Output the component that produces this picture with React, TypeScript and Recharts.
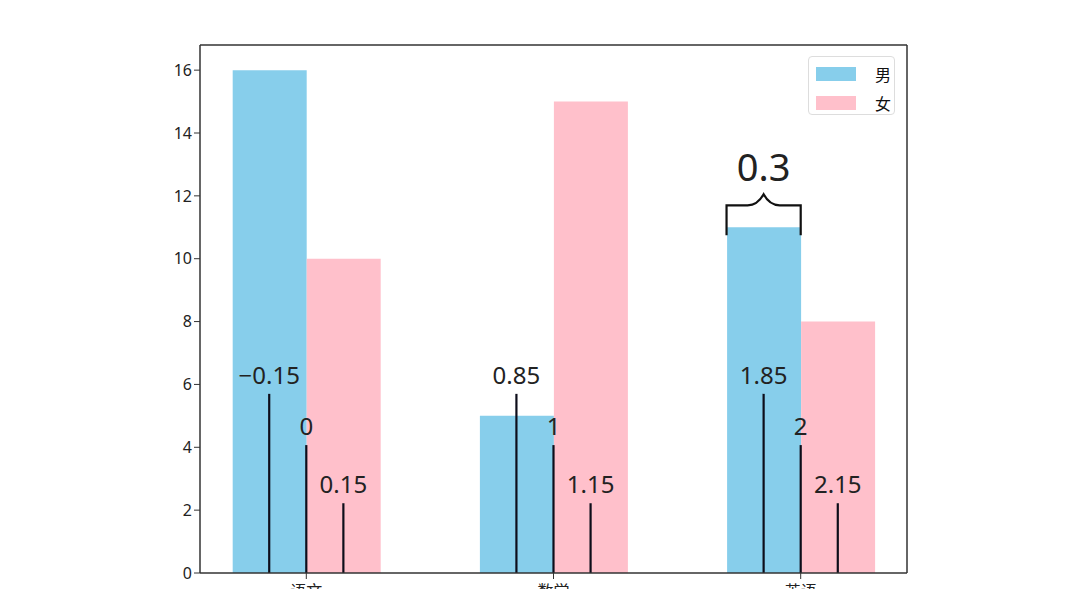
import React from 'react';
import {
  ComposedChart,
  Bar,
  XAxis,
  YAxis,
  ReferenceLine,
  ReferenceDot,
  Legend,
} from 'recharts';

const categories = ['语文', '数学', '英语'];
const maleValues = [16, 5, 11];
const femaleValues = [10, 15, 8];
const yTicks = [0, 2, 4, 6, 8, 10, 12, 14, 16];
const xDomain: [number, number] = [-0.43, 2.43];
const yDomain: [number, number] = [0, 16.8];
const markerX = [-0.15, 0, 0.15, 0.85, 1, 1.15, 1.85, 2, 2.15];
const markerLabels = ['−0.15', '0', '0.15', '0.85', '1', '1.15', '1.85', '2', '2.15'];
const markerHeights = [5.7, 4.07, 2.22, 5.7, 4.07, 2.22, 5.7, 4.07, 2.22];
const braceStart = 1.7;
const braceEnd = 2.0;
const braceY = 11.7;
const braceText = '0.3';
const braceTextY = 12.35;

const data = categories.map((c, i) => ({ x: i, name: c, male: maleValues[i], female: femaleValues[i] }));
const markers = markerX.map((x, i) => ({ x, label: markerLabels[i], h: markerHeights[i] }));

const FONT = '"Noto Sans", "Noto Sans CJK SC", sans-serif';
const BLUE = '#87CEEB';
const PINK = '#FFC0CB';

const BraceShape = (props: any) => {
  const { x1, y1, x2 } = props;
  const xa = Math.min(x1, x2);
  const xb = Math.max(x1, x2);
  const mid = (xa + xb) / 2;
  const y = y1;
  const drop = 30;
  const rise = 11;
  const d = `M ${xa} ${y + drop} L ${xa} ${y} L ${mid - 16} ${y} Q ${mid - 6} ${y} ${mid} ${y - rise} Q ${mid + 6} ${y} ${mid + 16} ${y} L ${xb} ${y} L ${xb} ${y + drop}`;
  return <path d={d} fill="none" stroke="#111" strokeWidth={2.2} />;
};

const LegendContent = () => (
  <div
    style={{
      width: 87,
      height: 59,
      border: '1px solid #ddd',
      borderRadius: 4,
      background: '#fff',
      boxSizing: 'border-box',
      position: 'relative',
      fontFamily: '"Noto Sans CJK SC", sans-serif',
      fontSize: 16,
      color: '#111',
    }}
  >
    {[{ c: BLUE, t: '男' }, { c: PINK, t: '女' }].map((e, i) => (
      <div key={e.t} style={{ position: 'absolute', left: 7, top: 9 + i * 29, display: 'flex', alignItems: 'center' }}>
        <div style={{ width: 40, height: 14, background: e.c }} />
        <span style={{ marginLeft: 19, lineHeight: '16px' }}>{e.t}</span>
      </div>
    ))}
  </div>
);

export default function App() {
  return (
    <div style={{ width: 1067, height: 620, background: '#fff' }}>
      <ComposedChart
        width={1067}
        height={620}
        data={data}
        margin={{ top: 37, right: 168, left: 132, bottom: 25 }}
        barGap={0}
      >
        <XAxis
          dataKey="x"
          type="number"
          domain={xDomain}
          ticks={[0, 1, 2]}
          tickFormatter={(v: number) => categories[v] ?? ''}
          height={30}
          axisLine={{ stroke: '#333', strokeWidth: 1.5 }}
          tickLine={{ stroke: '#333' }}
          tickSize={6}
          tick={{ fontFamily: '"Noto Sans CJK SC", sans-serif', fontSize: 16, fill: '#222', dy: 5 }}
          allowDataOverflow
        />
        <YAxis
          domain={yDomain}
          ticks={yTicks}
          width={60}
          axisLine={{ stroke: '#333', strokeWidth: 1.5 }}
          tickLine={{ stroke: '#333' }}
          tickSize={6}
          tick={{ fontFamily: FONT, fontSize: 16, fill: '#222' }}
          allowDataOverflow
        />
        <Legend
          layout="horizontal"
          verticalAlign="middle"
          align="center"
          content={<LegendContent />}
          wrapperStyle={{ position: 'absolute', left: 800, top: 48, width: 87, height: 59 }}
        />
        <Bar dataKey="male" name="男" fill={BLUE} barSize={74} isAnimationActive={false} />
        <Bar dataKey="female" name="女" fill={PINK} barSize={74} isAnimationActive={false} />
        <ReferenceLine y={yDomain[1]} stroke="#333" strokeWidth={1.5} />
        <ReferenceLine x={xDomain[1]} stroke="#333" strokeWidth={1.5} />
        {markers.map((m) => (
          <ReferenceLine
            key={'l' + m.x}
            segment={[{ x: m.x, y: 0 }, { x: m.x, y: m.h }]}
            stroke="#0d0d1a"
            strokeWidth={2.2}
          />
        ))}
        {markers.map((m) => (
          <ReferenceDot
            key={'d' + m.x}
            x={m.x}
            y={m.h}
            r={0}
            fill="none"
            stroke="none"
            label={{ value: m.label, position: 'top', offset: 10, fontSize: 24, fill: '#222', fontFamily: FONT }}
          />
        ))}
        <ReferenceLine
          segment={[{ x: braceStart, y: braceY }, { x: braceEnd, y: braceY }]}
          shape={BraceShape}
        />
        <ReferenceDot
          x={(braceStart + braceEnd) / 2}
          y={braceTextY}
          r={0}
          fill="none"
          stroke="none"
          label={{ value: braceText, position: 'top', offset: 4, fontSize: 38, fill: '#222', fontFamily: FONT }}
        />
      </ComposedChart>
    </div>
  );
}
